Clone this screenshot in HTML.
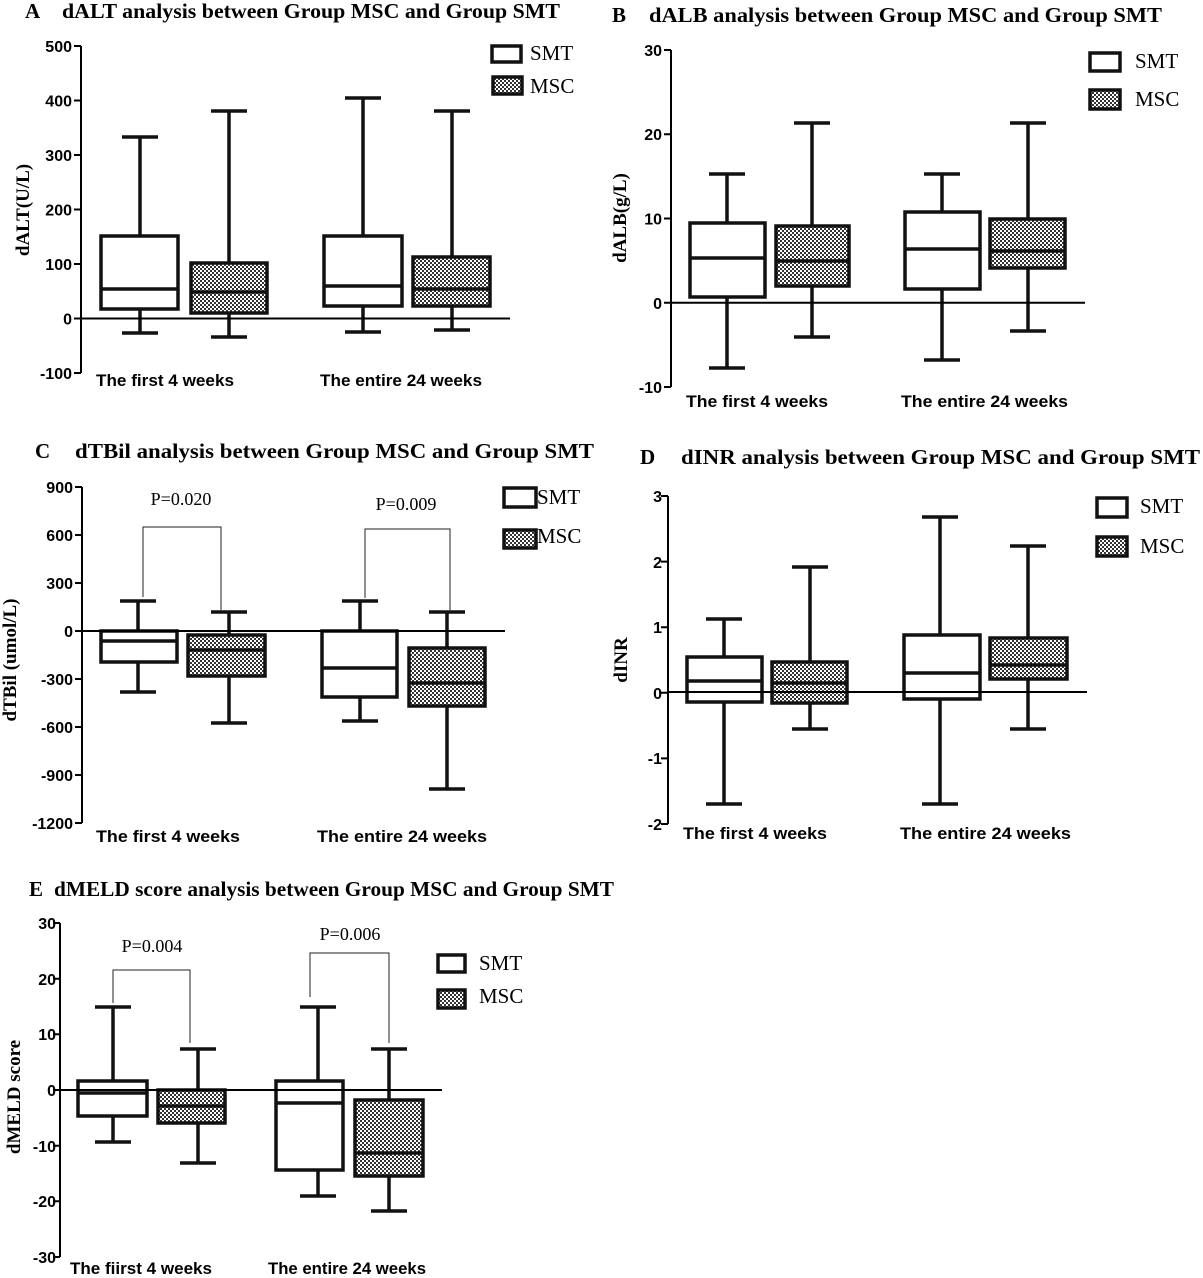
<!DOCTYPE html>
<html><head><meta charset="utf-8"><style>
html,body{margin:0;padding:0;background:#fff;}
svg{display:block;}
.t{font-family:"Liberation Serif",serif;font-weight:bold;font-size:21px;}
.tk{font-family:"Liberation Sans",sans-serif;font-weight:bold;font-size:16px;text-anchor:end;}
.cat{font-family:"Liberation Sans",sans-serif;font-weight:bold;font-size:17px;}
.yl{font-family:"Liberation Serif",serif;font-weight:bold;font-size:19px;text-anchor:middle;}
.lg{font-family:"Liberation Serif",serif;font-size:21px;}
.p{font-family:"Liberation Serif",serif;font-size:18px;text-anchor:middle;}
.ax{stroke:#000;stroke-width:2;fill:none;}
.w{stroke:#111;stroke-width:3.5;fill:none;}
.bs{stroke:#111;stroke-width:3.5;fill:#fff;}
.bm{stroke:#111;stroke-width:3.5;fill:url(#chk);}
.br{stroke:#222;stroke-width:1;fill:none;}
</style></head><body>
<svg width="1203" height="1278" viewBox="0 0 1203 1278" xmlns="http://www.w3.org/2000/svg">
<defs>
<pattern id="chk" width="4" height="4" patternUnits="userSpaceOnUse">
<rect width="4" height="4" fill="#fff"/>
<rect x="0" y="0" width="2" height="2" fill="#333"/>
<rect x="2" y="2" width="2" height="2" fill="#333"/>
</pattern>
</defs>

<!-- ============ PANEL A ============ -->
<text class="t" x="25" y="18">A</text>
<text class="t" x="62" y="18" textLength="498" lengthAdjust="spacingAndGlyphs">dALT analysis between Group MSC and Group SMT</text>
<path class="ax" d="M81 46 V373"/>
<path class="ax" d="M74 46 H81 M74 100.5 H81 M74 155 H81 M74 209.5 H81 M74 264 H81 M74 318.5 H81 M74 373 H81"/>
<g class="tk">
<text x="72" y="52">500</text><text x="72" y="106.5">400</text><text x="72" y="161">300</text>
<text x="72" y="215.5">200</text><text x="72" y="270">100</text><text x="72" y="324.5">0</text><text x="72" y="379">-100</text>
</g>
<text class="yl" transform="translate(29,210) rotate(-90)">dALT(U/L)</text>
<path class="w" d="M140 137 V236 M140 309 V333 M122 137 H158 M122 333 H158"/>
<rect class="bs" x="101" y="236" width="77" height="73"/><path class="w" d="M101 289 H178"/>
<path class="w" d="M229 111 V263 M229 313 V337 M211 111 H247 M211 337 H247"/>
<rect class="bm" x="191" y="263" width="76" height="50"/><path class="w" d="M191 292 H267"/>
<path class="w" d="M363 98 V236 M363 306 V332 M345 98 H381 M345 332 H381"/>
<rect class="bs" x="324" y="236" width="78" height="70"/><path class="w" d="M324 286 H402"/>
<path class="w" d="M452 111 V257 M452 306 V330 M434 111 H470 M434 330 H470"/>
<rect class="bm" x="413" y="257" width="77" height="49"/><path class="w" d="M413 289 H490"/>
<path class="ax" d="M81 318.5 H510"/>
<text class="cat" x="96" y="386" textLength="138" lengthAdjust="spacingAndGlyphs">The first 4 weeks</text>
<text class="cat" x="320" y="386" textLength="162" lengthAdjust="spacingAndGlyphs">The entire 24 weeks</text>
<rect class="bs" x="492" y="46" width="29" height="16" stroke-width="3"/>
<text class="lg" x="530" y="60">SMT</text>
<rect class="bm" x="493" y="77" width="29" height="17" stroke-width="3"/>
<text class="lg" x="530" y="93">MSC</text>

<!-- ============ PANEL B ============ -->
<text class="t" x="612" y="22">B</text>
<text class="t" x="649" y="22" textLength="513" lengthAdjust="spacingAndGlyphs">dALB analysis between Group MSC and Group SMT</text>
<path class="ax" d="M671 50 V387"/>
<path class="ax" d="M664 50 H671 M664 134.25 H671 M664 218.5 H671 M664 302.75 H671 M664 387 H671"/>
<g class="tk">
<text x="662" y="56">30</text><text x="662" y="140">20</text><text x="662" y="224.5">10</text>
<text x="662" y="309">0</text><text x="662" y="393">-10</text>
</g>
<text class="yl" transform="translate(626,218) rotate(-90)">dALB(g/L)</text>
<path class="w" d="M727 174 V223 M727 297 V368 M709 174 H745 M709 368 H745"/>
<rect class="bs" x="690" y="223" width="75" height="74"/><path class="w" d="M690 258 H765"/>
<path class="w" d="M812 123 V226 M812 286 V337 M794 123 H830 M794 337 H830"/>
<rect class="bm" x="776" y="226" width="73" height="60"/><path class="w" d="M776 261 H849"/>
<path class="w" d="M942 174 V212 M942 289 V360 M924 174 H960 M924 360 H960"/>
<rect class="bs" x="905" y="212" width="75" height="77"/><path class="w" d="M905 249 H980"/>
<path class="w" d="M1028 123 V219 M1028 268 V331 M1010 123 H1046 M1010 331 H1046"/>
<rect class="bm" x="990" y="219" width="75" height="49"/><path class="w" d="M990 251 H1065"/>
<path class="ax" d="M671 302.75 H1085"/>
<text class="cat" x="686" y="407" textLength="142" lengthAdjust="spacingAndGlyphs">The first 4 weeks</text>
<text class="cat" x="901" y="407" textLength="167" lengthAdjust="spacingAndGlyphs">The entire 24 weeks</text>
<rect class="bs" x="1090" y="53" width="30" height="18" stroke-width="3"/>
<text class="lg" x="1135" y="68">SMT</text>
<rect class="bm" x="1090" y="90" width="30" height="19" stroke-width="3"/>
<text class="lg" x="1135" y="106">MSC</text>

<!-- ============ PANEL C ============ -->
<text class="t" x="35" y="458">C</text>
<text class="t" x="75" y="458" textLength="519" lengthAdjust="spacingAndGlyphs">dTBil analysis between Group MSC and Group SMT</text>
<path class="ax" d="M82 487 V823"/>
<path class="ax" d="M75 487 H82 M75 535 H82 M75 583 H82 M75 631 H82 M75 679 H82 M75 727 H82 M75 775 H82 M75 823 H82"/>
<g class="tk">
<text x="73" y="493">900</text><text x="73" y="541">600</text><text x="73" y="589">300</text>
<text x="73" y="637">0</text><text x="73" y="685">-300</text><text x="73" y="733">-600</text>
<text x="73" y="781">-900</text><text x="73" y="829">-1200</text>
</g>
<text class="yl" transform="translate(16,660) rotate(-90)">dTBil (umol/L)</text>
<path class="w" d="M138 601 V631 M138 662 V692 M120 601 H156 M120 692 H156"/>
<rect class="bs" x="101" y="631" width="76" height="31"/><path class="w" d="M101 641 H177"/>
<path class="w" d="M229 612 V635 M229 676 V723 M211 612 H247 M211 723 H247"/>
<rect class="bm" x="188" y="635" width="77" height="41"/><path class="w" d="M188 650 H265"/>
<path class="w" d="M360 601 V631 M360 697 V721 M342 601 H378 M342 721 H378"/>
<rect class="bs" x="322" y="631" width="75" height="66"/><path class="w" d="M322 668 H397"/>
<path class="w" d="M447 612 V648 M447 706 V789 M429 612 H465 M429 789 H465"/>
<rect class="bm" x="409" y="648" width="76" height="58"/><path class="w" d="M409 683 H485"/>
<path class="ax" d="M82 631 H505"/>
<path class="br" d="M143 597 V527 H221 V610"/>
<text class="p" x="181" y="505">P=0.020</text>
<path class="br" d="M365 598 V529 H450 V610"/>
<text class="p" x="406" y="510">P=0.009</text>
<text class="cat" x="96" y="842" textLength="144" lengthAdjust="spacingAndGlyphs">The first 4 weeks</text>
<text class="cat" x="317" y="842" textLength="170" lengthAdjust="spacingAndGlyphs">The entire 24 weeks</text>
<rect class="bs" x="504" y="488" width="32" height="19" stroke-width="3"/>
<text class="lg" x="537" y="504">SMT</text>
<rect class="bm" x="504" y="530" width="32" height="18" stroke-width="3"/>
<text class="lg" x="537" y="543">MSC</text>

<!-- ============ PANEL D ============ -->
<text class="t" x="640" y="464">D</text>
<text class="t" x="681" y="464" textLength="519" lengthAdjust="spacingAndGlyphs">dINR analysis between Group MSC and Group SMT</text>
<path class="ax" d="M668 496 V824"/>
<path class="ax" d="M661 496 H668 M661 561.6 H668 M661 627.2 H668 M661 692.8 H668 M661 758.4 H668 M661 824 H668"/>
<g class="tk">
<text x="662" y="502">3</text><text x="662" y="568">2</text><text x="662" y="633">1</text>
<text x="662" y="699">0</text><text x="662" y="764">-1</text><text x="662" y="830">-2</text>
</g>
<text class="yl" transform="translate(627,660) rotate(-90)">dINR</text>
<path class="w" d="M724 619 V657 M724 702 V804 M706 619 H742 M706 804 H742"/>
<rect class="bs" x="687" y="657" width="75" height="45"/><path class="w" d="M687 681 H762"/>
<path class="w" d="M810 567 V662 M810 703 V729 M792 567 H828 M792 729 H828"/>
<rect class="bm" x="772" y="662" width="75" height="41"/><path class="w" d="M772 683 H847"/>
<path class="w" d="M940 517 V635 M940 699 V804 M922 517 H958 M922 804 H958"/>
<rect class="bs" x="904" y="635" width="76" height="64"/><path class="w" d="M904 673 H980"/>
<path class="w" d="M1028 546 V638 M1028 679 V729 M1010 546 H1046 M1010 729 H1046"/>
<rect class="bm" x="990" y="638" width="77" height="41"/><path class="w" d="M990 665 H1067"/>
<path class="ax" d="M668 692 H1087"/>
<text class="cat" x="683" y="839" textLength="144" lengthAdjust="spacingAndGlyphs">The first 4 weeks</text>
<text class="cat" x="900" y="839" textLength="171" lengthAdjust="spacingAndGlyphs">The entire 24 weeks</text>
<rect class="bs" x="1097" y="498" width="30" height="19" stroke-width="3"/>
<text class="lg" x="1140" y="513">SMT</text>
<rect class="bm" x="1097" y="537" width="30" height="19" stroke-width="3"/>
<text class="lg" x="1140" y="553">MSC</text>

<!-- ============ PANEL E ============ -->
<text class="t" x="29" y="896">E</text>
<text class="t" x="54" y="896" textLength="560" lengthAdjust="spacingAndGlyphs">dMELD score analysis between Group MSC and Group SMT</text>
<path class="ax" d="M60 923 V1257"/>
<path class="ax" d="M53 923 H60 M53 978.7 H60 M53 1034.3 H60 M53 1090 H60 M53 1145.7 H60 M53 1201.3 H60 M53 1257 H60"/>
<g class="tk">
<text x="56" y="929">30</text><text x="56" y="985">20</text><text x="56" y="1040">10</text>
<text x="56" y="1096">0</text><text x="56" y="1152">-10</text><text x="56" y="1207">-20</text><text x="56" y="1263">-30</text>
</g>
<text class="yl" transform="translate(20,1097) rotate(-90)">dMELD score</text>
<path class="w" d="M113 1007 V1081 M113 1116 V1142 M95 1007 H131 M95 1142 H131"/>
<rect class="bs" x="78" y="1081" width="69" height="35"/><path class="w" d="M78 1093 H147"/>
<path class="w" d="M198 1049 V1090 M198 1123 V1163 M180 1049 H216 M180 1163 H216"/>
<rect class="bm" x="158" y="1090" width="67" height="33"/><path class="w" d="M158 1106 H225"/>
<path class="w" d="M318 1007 V1081 M318 1170 V1196 M300 1007 H336 M300 1196 H336"/>
<rect class="bs" x="276" y="1081" width="67" height="89"/><path class="w" d="M276 1103 H343"/>
<path class="w" d="M389 1049 V1100 M389 1176 V1211 M371 1049 H407 M371 1211 H407"/>
<rect class="bm" x="355" y="1100" width="68" height="76"/><path class="w" d="M355 1153 H423"/>
<path class="ax" d="M60 1090 H442"/>
<path class="br" d="M113 1003 V970 H190 V1043"/>
<text class="p" x="152" y="952">P=0.004</text>
<path class="br" d="M310 997 V953 H389 V1043"/>
<text class="p" x="350" y="940">P=0.006</text>
<text class="cat" x="70" y="1274" textLength="142" lengthAdjust="spacingAndGlyphs">The fiirst 4 weeks</text>
<text class="cat" x="268" y="1274" textLength="158" lengthAdjust="spacingAndGlyphs">The entire 24 weeks</text>
<rect class="bs" x="438" y="955" width="27" height="17" stroke-width="3"/>
<text class="lg" x="479" y="970" font-size="20">SMT</text>
<rect class="bm" x="438" y="990" width="27" height="18" stroke-width="3"/>
<text class="lg" x="479" y="1003" font-size="20">MSC</text>
</svg>
</body></html>
